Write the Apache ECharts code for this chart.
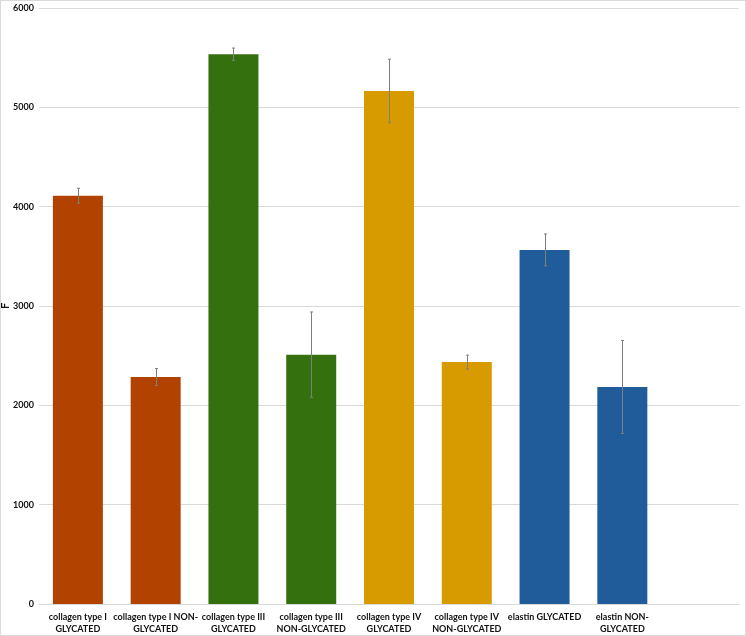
<!DOCTYPE html>
<html>
<head>
<meta charset="utf-8">
<script src="https://cdn.jsdelivr.net/npm/echarts@6/dist/echarts.min.js"></script>
<style>
html,body{margin:0;padding:0;background:#fff;}
#frame{position:absolute;left:0;top:0;width:744px;height:634px;border:1px solid #d9d9d9;}
#chart{position:absolute;left:0;top:0;width:746px;height:636px;}
</style>
</head>
<body>
<div id="frame"></div>
<div id="chart"></div>
<script>
var categories = [
  "collagen type I\nGLYCATED",
  "collagen type I NON-\nGLYCATED",
  "collagen type III\nGLYCATED",
  "collagen type III\nNON-GLYCATED",
  "collagen type IV\nGLYCATED",
  "collagen type IV\nNON-GLYCATED",
  "elastin GLYCATED",
  "elastin NON-\nGLYCATED",
  ""
];
var values = [4110, 2285, 5535, 2510, 5165, 2435, 3565, 2185];
var errors = [75, 85, 62, 430, 320, 70, 160, 468];
var colors = ["#B24200", "#B24200", "#35700E", "#35700E", "#D79B00", "#D79B00", "#1F5C99", "#1F5C99"];
var yTicks = [0, 1000, 2000, 3000, 4000, 5000, 6000];

var chart = echarts.init(document.getElementById('chart'), null, {renderer: 'canvas'});
var font = 'Lato, "Open Sans", sans-serif';
var option = {
  animation: false,
  grid: {left: 39, right: 7, top: 8, bottom: 32, containLabel: false, outerBoundsMode: 'none'},
  xAxis: {
    type: 'category',
    data: categories,
    axisLine: {lineStyle: {color: '#d9d9d9'}},
    axisTick: {show: false},
    axisLabel: {interval: 0, hideOverlap: false, color: '#111', fontWeight: 'bold', fontSize: 9, fontFamily: font, lineHeight: 12, margin: 7}
  },
  yAxis: {
    type: 'value',
    min: yTicks[0], max: yTicks[yTicks.length - 1], interval: 1000,
    name: 'F', nameLocation: 'middle', nameGap: 28, nameRotate: 90, nameMoveOverlap: false,
    nameTextStyle: {fontWeight: 'bold', fontSize: 11, color: '#111', fontFamily: font},
    axisLine: {show: false},
    axisTick: {show: false},
    splitLine: {lineStyle: {color: '#d9d9d9'}},
    axisLabel: {color: '#111', fontWeight: 'bold', fontSize: 9, fontFamily: font, margin: 5,
      formatter: function (v) { return String(v); }}
  },
  series: [
    {
      type: 'bar',
      barWidth: 50,
      data: values.map(function (v, i) { return {value: v, itemStyle: {color: colors[i]}}; })
    },
    {
      type: 'custom',
      z: 10,
      data: values.map(function (v, i) { return [i, v - errors[i], v + errors[i]]; }),
      renderItem: function (params, api) {
        var x = api.value(0);
        var lo = api.coord([x, api.value(1)]);
        var hi = api.coord([x, api.value(2)]);
        var cx = Math.round(lo[0]) + 0.5;
        var style = {stroke: '#7f7f7f', lineWidth: 1};
        return {
          type: 'group',
          children: [
            {type: 'line', shape: {x1: cx, y1: lo[1], x2: cx, y2: hi[1]}, style: style},
            {type: 'line', shape: {x1: cx - 1.5, y1: lo[1], x2: cx + 1.5, y2: lo[1]}, style: style},
            {type: 'line', shape: {x1: cx - 1.5, y1: hi[1], x2: cx + 1.5, y2: hi[1]}, style: style}
          ]
        };
      }
    }
  ]
};
chart.setOption(option);
</script>
</body>
</html>
